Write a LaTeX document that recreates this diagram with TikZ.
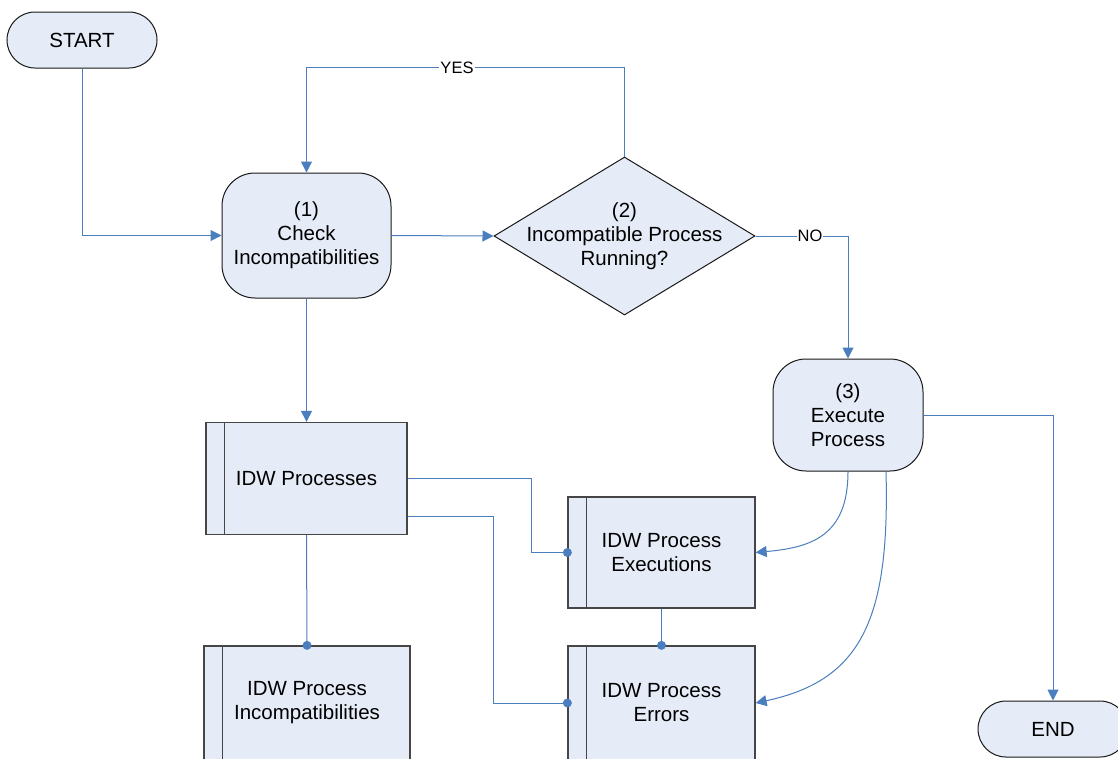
\documentclass[tikz,border=0pt]{standalone}
\usepackage{fontspec}
\setmainfont{Liberation Sans}
\usetikzlibrary{arrows.meta,shapes.geometric,calc}
\definecolor{boxfill}{RGB}{230,236,247}
\definecolor{linec}{RGB}{74,126,190}
\definecolor{bdark}{RGB}{25,25,25}
\definecolor{bgray}{RGB}{70,70,70}
\tikzset{
  txt/.style={font=\fontsize{20.5}{24}\selectfont, align=center, text=black},
  term/.style={txt, draw=bdark, fill=boxfill, line width=1pt, rounded corners=28pt, minimum width=150pt, minimum height=56pt, inner sep=0pt},
  proc/.style={txt, draw=bdark, fill=boxfill, line width=1pt, rounded corners=33pt, inner sep=0pt},
  decis/.style={diamond, draw=bdark, fill=boxfill, line width=1pt, inner sep=0pt, minimum width=261pt, minimum height=158pt},
  dbox/.style={txt, draw=bgray, fill=boxfill, line width=1.3pt, inner sep=0pt},
  conn/.style={draw=linec, line width=1pt},
  arr/.style={-{Triangle[length=11pt,width=11pt]}},
  lbl/.style={font=\fontsize{16.5}{19}\selectfont, fill=white, inner sep=1pt, text=black},
  dotc/.style={fill=linec}
}
\begin{document}
\begin{tikzpicture}[x=1pt,y=-1pt]
\useasboundingbox[fill=white] (0,0) rectangle (1118,758);
% nodes
\node[term] (start) at (82,40) {START};
\node[proc, minimum width=169pt, minimum height=125pt] (p1) at (306.5,235.5) {(1)\\Check\\Incompatibilities};
\node[decis] (d2) at (624.5,236) {};
\node[txt] (d2t) at (624.5,236) {(2)\\Incompatible Process\\Running?};
\node[proc, minimum width=150pt, minimum height=112pt] (p3) at (848,415) {(3)\\Execute\\Process};
\node[term] (end) at (1053,729) {END};
\node[dbox, minimum width=201pt, minimum height=112pt] (idwp) at (306.5,478.5) {IDW Processes};
\node[dbox, minimum width=206pt, minimum height=114pt] (inc) at (307,703) {IDW Process\\Incompatibilities};
\node[dbox, minimum width=187pt, minimum height=111pt] (exe) at (661.5,552.5) {IDW Process\\Executions};
\node[dbox, minimum width=187pt, minimum height=114pt] (err) at (661.5,703) {IDW Process\\Errors};
% bars
\foreach \n in {idwp,inc,exe,err}{
  \draw[bgray, line width=1.3pt] ($(\n.north west)+(19,0)$) -- ($(\n.south west)+(19,0)$);
}
% connectors
\draw[conn,arr] (start.south) |- (p1.west);
\draw[conn,arr] (p1.east) -- (d2.west);
\draw[conn,arr] (d2.north) -- ++(0,-89) -| (p1.north);
\node[lbl] (yes) at (457,68) {YES};
\draw[conn,arr] (d2.east) -| (p3.north);
\node[lbl] (no) at (810,236) {NO};
\draw[conn,arr] (p3.east) -| (end.north);
\draw[conn,arr] (p1.south) -- (idwp.north);
\draw[conn] (idwp.south) -- (inc.north);
\fill[dotc] (inc.north) circle (4.5pt);
\draw[conn] (idwp.east) -- ++(124,0) |- (exe.west);
\fill[dotc] (exe.west) circle (4.5pt);
\draw[conn] ($(idwp.east)+(0,37.5)$) -- ++(86,0) |- (err.west);
\fill[dotc] (err.west) circle (4.5pt);
\draw[conn] (exe.south) -- (err.north);
\fill[dotc] (err.north) circle (4.5pt);
\draw[conn,arr] (p3.south) .. controls +(0,65) and +(55,-5) .. (exe.east);
\draw[conn,arr] ($(p3.south)+(38,0)$) .. controls +(4,149) and +(105,-22.5) .. (err.east);
\end{tikzpicture}
\end{document}
